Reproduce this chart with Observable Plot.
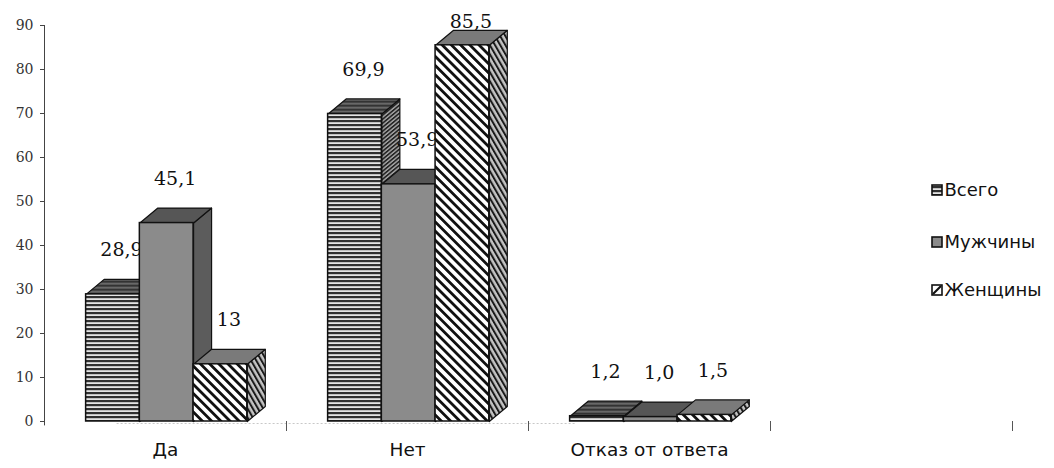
<!DOCTYPE html>
<html><head><meta charset="utf-8">
<script src="https://cdn.jsdelivr.net/npm/d3@7"></script>
<script src="https://cdn.jsdelivr.net/npm/@observablehq/plot@0.6"></script>
<style>body{margin:0;background:#fff}#chart{position:relative;width:1054px;height:468px}</style>
</head><body><div id="chart"></div>
<script>
// ---- data ----
const categories = ["Да", "Нет", "Отказ от ответа"];
const seriesNames = ["Всего", "Мужчины", "Женщины"];
const totalValues = [28.9, 69.9, 1.2];
const menValues = [45.1, 53.9, 1.0];
const womenValues = [13, 85.5, 1.5];
const totalLabels = ["28,9", "69,9", "1,2"];
const menLabels = ["45,1", "53,9", "1,0"];
const womenLabels = ["13", "85,5", "1,5"];
const yTicks = [0, 10, 20, 30, 40, 50, 60, 70, 80, 90];
const xBandTicks = [1, 2, 3, 4];

// ---- style constants (bar geometry in scale units) ----
const BW = 0.222, DXU = 0.0744, DYU = 3.41, START = 0.172;
const seriesValues = [totalValues, menValues, womenValues];
const seriesLabels = [totalLabels, menLabels, womenLabels];
const frontFill = ["url(#hFront)", "#8b8b8b", "url(#dFront)"];
const topFill = ["url(#hTop)", "#565656", "#7a7a7a"];
const sideFill = ["url(#hSide)", "#5c5c5c", "url(#dSide)"];

const rows = seriesValues.map((vals, j) => vals.map((v, i) => {
  const x0 = i + START + j * BW;
  return {j, i, v, x0, x1: x0 + BW, label: seriesLabels[j][i], id: j + "-" + i};
}));
const topPts = rows.map(rs => rs.flatMap(d => [
  {id: d.id, x: d.x0, y: d.v}, {id: d.id, x: d.x1, y: d.v},
  {id: d.id, x: d.x1 + DXU, y: d.v + DYU}, {id: d.id, x: d.x0 + DXU, y: d.v + DYU},
  {id: d.id, x: d.x0, y: d.v}]));
const sidePts = rows.map(rs => rs.flatMap(d => [
  {id: d.id, x: d.x1, y: 0}, {id: d.id, x: d.x1, y: d.v},
  {id: d.id, x: d.x1 + DXU, y: d.v + DYU}, {id: d.id, x: d.x1 + DXU, y: DYU},
  {id: d.id, x: d.x1, y: 0}]));

const marks = [
  Plot.ruleY([0], {x1: 0.3, x2: 2.2, stroke: "#c8c8c8", strokeDasharray: "2,2", dy: 2}),
  Plot.ruleX([0], {y1: -1, y2: 90, stroke: "#444", strokeWidth: 1}),
  Plot.axisY({ticks: yTicks, tickSize: 4, tickPadding: 7, fontSize: 14, fontFamily: "DejaVu Serif", stroke: "#444", fill: "#333"}),
  Plot.axisX({ticks: xBandTicks, tickSize: 10, tickFormat: () => "", stroke: "#555"}),
  Plot.text(categories, {x: (d, i) => i + 0.5, frameAnchor: "bottom", dy: 34, text: d => d,
    fontFamily: "DejaVu Sans", fontSize: 18.5, fill: "#111"})
];
for (let j = 0; j < 3; j++) {
  marks.push(
    Plot.line(sidePts[j], {x: "x", y: "y", z: "id", fill: sideFill[j], stroke: "#111", strokeWidth: 1.2, curve: "linear"}),
    Plot.line(topPts[j], {x: "x", y: "y", z: "id", fill: topFill[j], stroke: "#111", strokeWidth: 1.2, curve: "linear"}),
    Plot.rect(rows[j], {x1: "x0", x2: "x1", y1: 0, y2: "v", fill: frontFill[j], stroke: "#111", strokeWidth: 1.5}),
    Plot.text(rows[j], {x: d => (d.x0 + d.x1) / 2 + 0.035, y: d => Math.min(d.v + 10, 90.9), text: "label",
      fontFamily: "DejaVu Serif", fontSize: 19, fill: "#111"})
  );
}

const chart = Plot.plot({
  width: 1054, height: 468,
  marginLeft: 44, marginRight: 42, marginTop: 25, marginBottom: 47,
  x: {type: "linear", domain: [0, 4], label: null},
  y: {domain: [0, 90], label: null},
  style: {background: "#fff", overflow: "visible"},
  marks
});

const svg = d3.select(chart);
svg.insert("defs", ":first-child").html(`
  <pattern id="hFront" patternUnits="userSpaceOnUse" width="4" height="4">
    <rect width="4" height="4" fill="#e4e4e4"/><rect width="4" height="2.2" fill="#303030"/></pattern>
  <pattern id="hTop" patternUnits="userSpaceOnUse" width="4" height="4">
    <rect width="4" height="4" fill="#7a7a7a"/><rect width="4" height="2.5" fill="#333"/></pattern>
  <pattern id="hSide" patternUnits="userSpaceOnUse" width="4" height="4" patternTransform="skewY(-39.8)">
    <rect width="4" height="4" fill="#a8a8a8"/><rect width="4" height="2.2" fill="#262626"/></pattern>
  <pattern id="dFront" patternUnits="userSpaceOnUse" width="6.5" height="6.5" patternTransform="rotate(-45)">
    <rect width="6.5" height="6.5" fill="#fff"/><rect width="2.8" height="6.5" fill="#111"/></pattern>
  <pattern id="dSide" patternUnits="userSpaceOnUse" width="4.5" height="4.5" patternTransform="rotate(-30)">
    <rect width="4.5" height="4.5" fill="#c4c4c4"/><rect width="2" height="4.5" fill="#1a1a1a"/></pattern>
`);

// legend
const legendY = [190, 242, 290];
const leg = svg.append("g").attr("font-family", "DejaVu Sans").attr("font-size", 18)
  .attr("fill", "#111").attr("text-anchor", "start");
const legIcon = ["url(#hFront)", "#8b8b8b", "#fff"];
seriesNames.forEach((name, k) => {
  const g = leg.append("g").attr("transform", `translate(932,${legendY[k]})`);
  g.append("rect").attr("x", 0).attr("y", -5).attr("width", 10).attr("height", 10)
    .attr("fill", legIcon[k]).attr("stroke", "#111").attr("stroke-width", 1.6);
  if (k === 2) g.append("line").attr("x1", 1).attr("y1", 4).attr("x2", 9).attr("y2", -4).attr("stroke", "#111").attr("stroke-width", 2.2);
  g.append("text").attr("x", 12.5).attr("dy", "0.35em").attr("text-anchor", "start").text(name);
});

document.getElementById("chart").appendChild(chart);
</script>
</body></html>
